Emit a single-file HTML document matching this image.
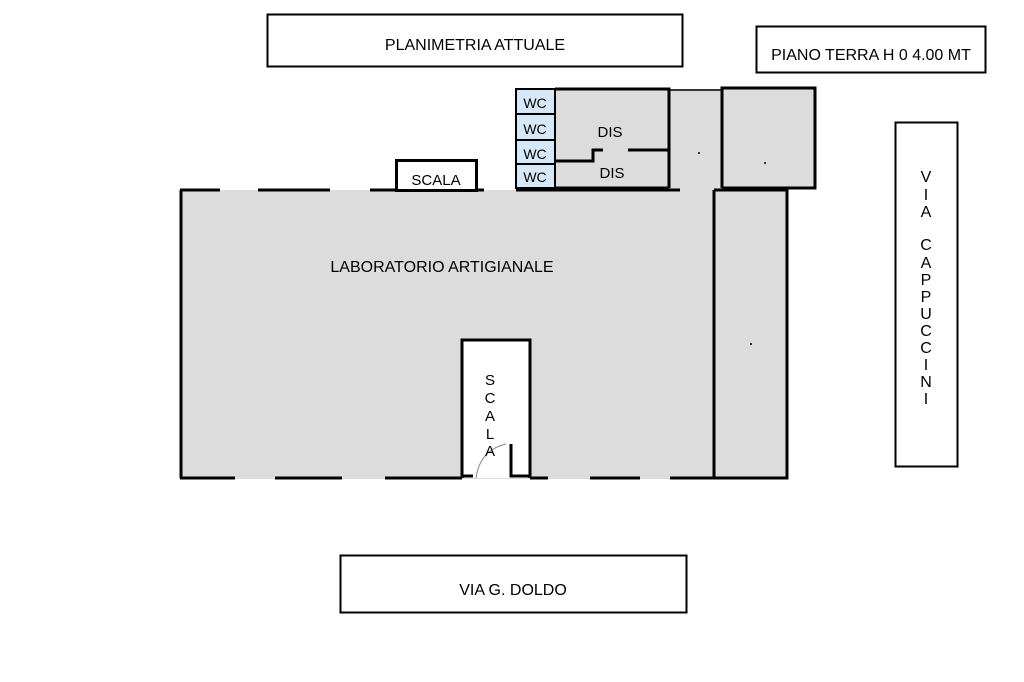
<!DOCTYPE html>
<html><head><style>
html,body{margin:0;padding:0;background:#fff}
svg{display:block}
text{font-family:"Liberation Sans",sans-serif;fill:#000}
</style></head><body>
<svg width="1024" height="682" viewBox="0 0 1024 682" xmlns="http://www.w3.org/2000/svg">
<rect x="267.5" y="14.5" width="415" height="52" fill="#fff" stroke="#000" stroke-width="2"/>
<text x="475" y="50" font-size="16" text-anchor="middle">PLANIMETRIA ATTUALE</text>
<rect x="756.5" y="26.5" width="229" height="46" fill="#fff" stroke="#000" stroke-width="2"/>
<text x="871" y="60" font-size="16" text-anchor="middle">PIANO TERRA H 0 4.00 MT</text>
<rect x="895.5" y="122.5" width="62" height="344" fill="#fff" stroke="#000" stroke-width="2"/>
<g font-size="16" text-anchor="middle">
<text x="926" y="182">V</text><text x="926" y="200">I</text><text x="926" y="217">A</text>
<text x="926" y="250">C</text><text x="926" y="268">A</text><text x="926" y="285">P</text><text x="926" y="302">P</text><text x="926" y="319">U</text><text x="926" y="336">C</text><text x="926" y="353">C</text><text x="926" y="370">I</text><text x="926" y="387">N</text><text x="926" y="404">I</text>
</g>
<rect x="340.5" y="555.5" width="346" height="57" fill="#fff" stroke="#000" stroke-width="2"/>
<text x="513" y="595" font-size="16" text-anchor="middle">VIA G. DOLDO</text>

<rect x="180" y="190" width="607" height="289" fill="#dcdcdc"/>
<rect x="555" y="89" width="114" height="100" fill="#dcdcdc"/>
<rect x="669" y="89" width="53" height="101" fill="#dcdcdc"/>
<rect x="722" y="88" width="93" height="100" fill="#dcdcdc"/>
<g fill="#d5e8f7" stroke="#000" stroke-width="2">
<rect x="516" y="89" width="39" height="25"/>
<rect x="516" y="114" width="39" height="26"/>
<rect x="516" y="140" width="39" height="24"/>
<rect x="516" y="164" width="39" height="24"/>
</g>
<g font-size="14" text-anchor="middle" fill="#000">
<text x="535" y="108">WC</text><text x="535" y="134">WC</text><text x="535" y="159">WC</text><text x="535" y="182">WC</text>
</g>
<g stroke="#000" stroke-width="3" fill="none">
<path d="M555 89H669V188M555 188H669"/>
<path d="M555 161H593V150H603M628 150H669"/>
<path d="M722 188V88H815V188H722"/>
<path d="M669 89V188"/>
<path d="M722 89V150M722 188V155"/>
<path d="M181 190V478"/>
<path d="M180 190H220M258 190H330M370 190H396M476 190H484M516 190H680"/>
<path d="M714 190H787V478H714V190"/>
<path d="M714 190V362M714 405V478"/>
<path d="M180 478H235M275 478H342M385 478H462M530 478H548M590 478H640M670 478H787"/>
</g>
<path d="M669 90H722" stroke="#000" stroke-width="1.5"/>
<rect x="396.5" y="160.5" width="80" height="30" fill="#fff" stroke="#000" stroke-width="3"/>
<text x="436" y="185" font-size="15" text-anchor="middle">SCALA</text>
<rect x="462" y="340" width="68" height="138" fill="#fff"/>
<path d="M462 478V340H530V478M462 476H473M530 476H511V444" stroke="#000" stroke-width="3" fill="none"/>
<path d="M476 478Q480 450 506 444" stroke="#888" stroke-width="1" fill="none"/>
<g font-size="15" text-anchor="middle">
<text x="490" y="385">S</text><text x="490" y="403">C</text><text x="490" y="421">A</text><text x="490" y="439">L</text><text x="490" y="456">A</text>
</g>
<text x="610" y="137" font-size="15" text-anchor="middle">DIS</text>
<text x="612" y="178" font-size="15" text-anchor="middle">DIS</text>
<text x="442" y="272" font-size="16" text-anchor="middle">LABORATORIO ARTIGIANALE</text>
<circle cx="699" cy="153" r="1" fill="#000"/>
<circle cx="765" cy="163" r="1" fill="#000"/>
<circle cx="751" cy="344" r="1" fill="#000"/>
</svg>
</body></html>
